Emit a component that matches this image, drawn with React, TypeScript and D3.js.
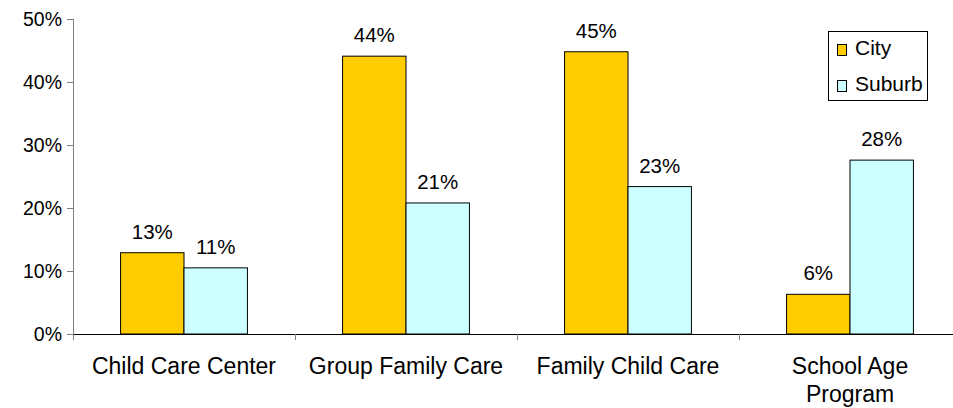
import React from "react";
import * as d3 from "d3";

const categories = ["Child Care Center", "Group Family Care", "Family Child Care", "School Age Program"];
const seriesNames = ["City", "Suburb"];
const cityValues = [12.9, 44.1, 44.8, 6.3];
const suburbValues = [10.5, 20.8, 23.4, 27.6];
const yTicks = [0, 10, 20, 30, 40, 50];
const colors = ["#FFCC00", "#CCFFFF"];

const W = 953;
const H = 408;
const left = 73;
const right = 961;
const top = 19;
const bottom = 334;
const font = "'Liberation Sans', Arial, sans-serif";

function wrapLabel(s: string): string[] {
  if (s === "School Age Program") return ["School Age", "Program"];
  return [s];
}

export default function App() {
  const x = d3.scaleBand<string>().domain(categories).range([left, right]).paddingInner(0).paddingOuter(0);
  const y = d3.scaleLinear().domain([0, 50]).range([bottom, top]);
  const bw = x.bandwidth();
  const barW = bw / 3.5;
  const inner = d3.scaleBand<string>().domain(seriesNames).range([bw / 2 - barW, bw / 2 + barW]);
  const series = [cityValues, suburbValues];

  return (
    <svg width={W} height={H} style={{ position: "absolute", left: 0, top: 0, background: "#fff" }} fontFamily={font}>
      {/* y axis */}
      <line x1={left + 0.5} x2={left + 0.5} y1={top} y2={bottom} stroke="#808080" strokeWidth={1} />
      {yTicks.map((t) => (
        <g key={t}>
          <line x1={left - 6} x2={left} y1={Math.round(y(t)) + 0.5} y2={Math.round(y(t)) + 0.5} stroke="#808080" />
          <text x={62} y={y(t) + 7} textAnchor="end" fontSize={19.5} fill="#000">
            {t}%
          </text>
        </g>
      ))}
      {/* bars */}
      {categories.map((c, i) => (
        <g key={c} transform={`translate(${x(c)},0)`}>
          {series.map((vals, si) => {
            const v = vals[i];
            const bx = inner(seriesNames[si])!;
            return (
              <g key={si}>
                <rect
                  x={bx}
                  y={y(v)}
                  width={inner.bandwidth()}
                  height={bottom - y(v)}
                  fill={colors[si]}
                  stroke="#000"
                  strokeWidth={1}
                />
                <text x={bx + inner.bandwidth() / 2} y={y(v) - 14} textAnchor="middle" fontSize={20.5} fill="#000">
                  {Math.round(v)}%
                </text>
              </g>
            );
          })}
        </g>
      ))}
      {/* x axis */}
      <line x1={left} x2={W} y1={bottom + 0.5} y2={bottom + 0.5} stroke="#000" strokeWidth={1} />
      {categories.map((c, i) => (
        <line key={"t" + i} x1={x(c)! + 0.5} x2={x(c)! + 0.5} y1={bottom} y2={bottom + 6} stroke="#808080" />
      ))}
      {categories.map((c) => (
        <text key={"l" + c} x={x(c)! + bw / 2} y={374} textAnchor="middle" fontSize={23} fill="#000">
          {wrapLabel(c).map((ln, k) => (
            <tspan key={k} x={x(c)! + bw / 2} dy={k === 0 ? 0 : 28}>
              {ln}
            </tspan>
          ))}
        </text>
      ))}
      {/* legend */}
      <rect x={828.5} y={31.5} width={99} height={69} fill="#fff" stroke="#000" strokeWidth={1} />
      {seriesNames.map((s, i) => (
        <g key={s}>
          <rect x={837.5} y={44.5 + i * 36} width={9} height={11} fill={colors[i]} stroke="#000" />
          <text x={855} y={55 + i * 36} fontSize={21} fill="#000">
            {s}
          </text>
        </g>
      ))}
    </svg>
  );
}
